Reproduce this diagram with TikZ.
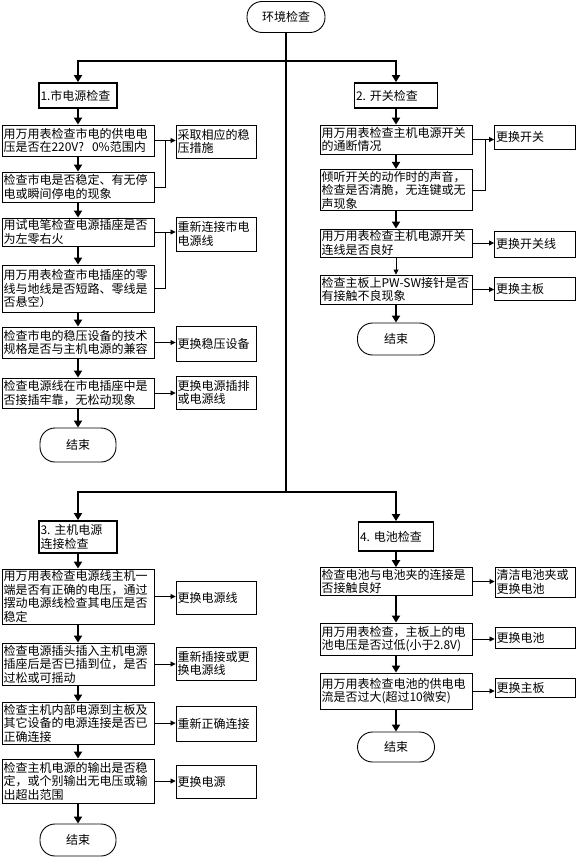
\documentclass[tikz,border=0pt]{standalone}
\usepackage{fontspec}
\newfontfamily\cjk{Noto Sans CJK SC}
\usetikzlibrary{positioning,arrows.meta,calc}
\tikzset{
  every node/.style={font=\cjk\fontsize{12}{13.5}\selectfont},
  stepbox/.style={draw,line width=0.9pt,inner sep=1.5pt,align=left,text width=149pt},
  fixbox/.style={draw,line width=0.9pt,inner sep=1.5pt,align=left,text width=77pt},
  headbox/.style={draw,line width=1.8pt,inner sep=1.5pt,align=left},
  endnode/.style={draw,line width=0.9pt,rounded corners=15pt,minimum width=77pt,minimum height=32pt},
  flowline/.style={line width=1.8pt,-{Triangle[length=7pt,width=8pt]}},
  sideline/.style={line width=0.8pt,-{Triangle[length=5pt,width=5pt]}},
  thinline/.style={line width=0.8pt}
}
\begin{document}
\begin{tikzpicture}[x=1pt,y=-1pt]
\useasboundingbox[fill=white] (0,0) rectangle (576,858);
%% start and the two split points
\node[endnode,minimum width=78pt,minimum height=31pt] (envCheck) at (286,17) {环境检查};
\coordinate (topSplit) at (286,61);
\coordinate (lowSplit) at (286,492);
%the heads
\node[headbox,text width=75pt,minimum height=25pt] (powerHead) at (78,95.5) {\mbox{1.市电源检查}};
\node[headbox,text width=80pt,minimum height=25pt] (switchHead) at (396,95.5) {\mbox{2.~开关检查}};
\node[headbox,text width=75pt,minimum height=32pt] (hostHead) at (78,537) {\mbox{3.~主机电源}\\连接检查};
\node[headbox,text width=72pt,minimum height=29pt] (batteryHead) at (396,536.5) {\mbox{4.~电池检查}};
%mains power column
\node[stepbox,minimum height=31pt] (powerA) at (78,140.5) {用万用表检查市电的供电电\\压是否在220V?~~0\%范围内};
\node[stepbox,minimum height=30pt] (powerB) at (78,187) {检查市电是否稳定、有无停\\电或瞬间停电的现象};
\node[stepbox,minimum height=28pt] (powerC) at (78,232) {用试电笔检查电源插座是否\\为左零右火};
\node[stepbox,minimum height=47pt] (powerD) at (78,288.5) {用万用表检查市电插座的零\\线与地线是否短路、零线是\\否悬空）};
\node[stepbox,minimum height=31pt] (powerE) at (78,342.5) {检查市电的稳压设备的技术\\规格是否与主机电源的兼容};
\node[stepbox,minimum height=30pt] (powerF) at (78,393) {检查电源线在市电插座中是\\否接插牢靠，无松动现象};
\node[endnode,minimum width=76pt,minimum height=34pt] (powerEnd) at (78,445) {结束};
\node[fixbox,minimum height=33pt] (powerFixA) at (216,141.5) {采取相应的稳\\压措施};
\node[fixbox,minimum height=34pt] (powerFixB) at (216,234) {重新连接市电\\电源线};
\node[fixbox,minimum height=35pt] (powerFixC) at (216,343.5) {更换稳压设备};
\node[fixbox,minimum height=33pt] (powerFixD) at (216,392.5) {更换电源插排\\或电源线};
%switch column
\node[stepbox,minimum height=29pt] (switchA) at (396,139.5) {用万用表检查主机电源开关\\的通断情况};
\node[stepbox,minimum height=40pt] (switchB) at (396,190) {倾听开关的动作时的声音，\\检查是否清脆，无连键或无\\声现象};
\node[stepbox,minimum height=28pt] (switchC) at (396,243) {用万用表检查主机电源开关\\连线是否良好};
\node[stepbox,minimum height=29pt] (switchD) at (396,289.5) {检查主板上PW-SW接针是否\\有接触不良现象};
\node[endnode,minimum width=77pt,minimum height=32pt] (switchEnd) at (396,339) {结束};
\node[fixbox,text width=78pt,minimum height=24pt] (switchFixA) at (535,137) {更换开关};
\node[fixbox,text width=78pt,minimum height=26pt] (switchFixB) at (535,244) {更换开关线};
\node[fixbox,text width=78pt,minimum height=23pt] (switchFixC) at (535,288.5) {更换主板};
%host power column
\node[stepbox,minimum height=55pt] (hostA) at (78,596.5) {用万用表检查电源线主机一\\端是否有正确的电压，通过\\摆动电源线检查其电压是否\\稳定};
\node[stepbox,minimum height=42pt] (hostB) at (78,664) {检查电源插头插入主机电源\\插座后是否已插到位，是否\\过松或可摇动};
\node[stepbox,minimum height=42pt] (hostC) at (78,723) {检查主机内部电源到主板及\\其它设备的电源连接是否已\\正确连接};
\node[stepbox,minimum height=44pt] (hostD) at (78,781) {检查主机电源的输出是否稳\\定，或个别输出无电压或输\\出超出范围};
\node[endnode,minimum width=76pt,minimum height=32pt] (hostEnd) at (78,840) {结束};
\node[fixbox,minimum height=33pt] (hostFixA) at (216,597.5) {更换电源线};
\node[fixbox,minimum height=33pt] (hostFixB) at (216,663.5) {重新插接或更\\换电源线};
\node[fixbox,minimum height=35pt] (hostFixC) at (216,723.5) {重新正确连接};
\node[fixbox,minimum height=33pt] (hostFixD) at (216,781.5) {更换电源};
%battery column
\node[stepbox,minimum height=27pt] (batteryA) at (396,581.5) {检查电池与电池夹的连接是\\否接触良好};
\node[stepbox,minimum height=32pt] (batteryB) at (396,639) {用万用表检查，主板上的电\\池电压是否过低(小于2.8V)};
\node[stepbox,minimum height=36pt] (batteryC) at (396,691) {用万用表检查电池的供电电\\流是否过大(超过10微安)};
\node[endnode,minimum width=77pt,minimum height=30pt] (batteryEnd) at (396,747) {结束};
\node[fixbox,minimum height=30pt] (batteryFixA) at (535,582) {清洁电池夹或\\更换电池};
\node[fixbox,minimum height=21pt] (batteryFixB) at (535,637.5) {更换电池};
\node[fixbox,minimum height=19pt] (batteryFixC) at (535,687.5) {更换主板};
%drawings of the main lines
\draw[line width=1.8pt] (envCheck.south) -- (lowSplit);
\draw[flowline] (topSplit) -| (powerHead.north);
\draw[flowline] (topSplit) -| (switchHead.north);
\draw[flowline] (lowSplit) -| (hostHead.north);
\draw[flowline] (lowSplit) -| (batteryHead.north);
%column arrows
\draw[flowline] (powerHead) -- (powerA);
\draw[flowline] (powerA) -- (powerB);
\draw[flowline] (powerB) -- (powerC);
\draw[flowline] (powerC) -- (powerD);
\draw[flowline] (powerD) -- (powerE);
\draw[flowline] (powerE) -- (powerF);
\draw[flowline] (powerF) -- (powerEnd);
\draw[flowline] (switchHead) -- (switchA);
\draw[flowline] (switchA) -- (switchB);
\draw[flowline] (switchB) -- (switchC);
\draw[sideline] (switchC) -- (switchD);
\draw[flowline] (switchD) -- (switchEnd);
\draw[flowline] (hostHead) -- (hostA);
\draw[flowline] (hostA) -- (hostB);
\draw[flowline] (hostB) -- (hostC);
\draw[flowline] (hostC) -- (hostD);
\draw[flowline] (hostD) -- (hostEnd);
\draw[flowline] (batteryHead) -- (batteryA);
\draw[flowline] (batteryA) -- (batteryB);
\draw[flowline] (batteryB) -- (batteryC);
\draw[flowline] (batteryC) -- (batteryEnd);
%side arrows
\draw[sideline] (powerA.east) -- (powerA.east -| powerFixA.west);
\draw[thinline] (powerB.east) -| ($(powerA.east)+(11,0)$);
\draw[sideline] (powerC.east) -- (powerC.east -| powerFixB.west);
\draw[thinline] (powerD.east) -| ($(powerC.east)+(11,0)$);
\draw[sideline] (powerE.east) -- (powerE.east -| powerFixC.west);
\draw[sideline] (powerF.east) -- (powerF.east -| powerFixD.west);
\draw[sideline] (switchA.east) -- (switchA.east -| switchFixA.west);
\draw[thinline] (switchB.east) -| ($(switchA.east)+(13,0)$);
\draw[sideline] (switchC.east) -- (switchC.east -| switchFixB.west);
\draw[sideline] (switchD.east) -- (switchD.east -| switchFixC.west);
\draw[sideline] (hostA.east) -- (hostA.east -| hostFixA.west);
\draw[sideline] (hostB.east) -- (hostB.east -| hostFixB.west);
\draw[sideline] (hostC.east) -- (hostC.east -| hostFixC.west);
\draw[sideline] (hostD.east) -- (hostD.east -| hostFixD.west);
\draw[sideline] (batteryA.east) -- (batteryA.east -| batteryFixA.west);
\draw[sideline] (batteryB.east) -- (batteryB.east -| batteryFixB.west);
\draw[sideline] (batteryC.east) -- (batteryC.east -| batteryFixC.west);
\end{tikzpicture}
\end{document}
